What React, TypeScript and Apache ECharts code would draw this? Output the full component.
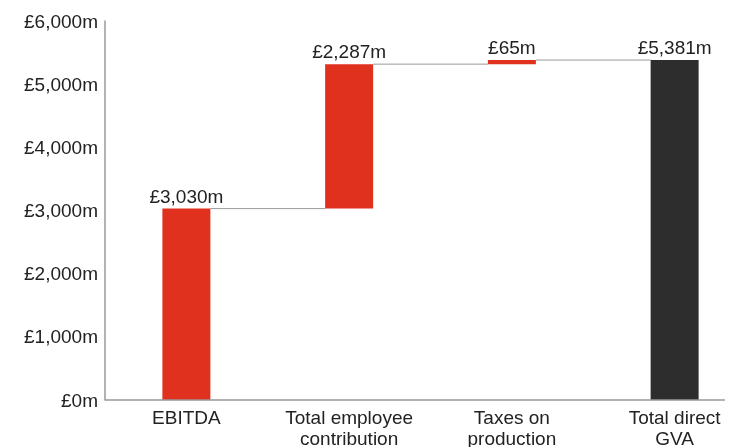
import React, { useEffect, useRef } from "react";
import * as echarts from "echarts";

const categories = ["EBITDA", "Total employee\ncontribution", "Taxes on\nproduction", "Total direct\nGVA"];
const baseValues = [0, 3030, 5317, 0];
const stepValues = [3030, 2287, 65, 5381];
const barColors = ["#E0301E", "#E0301E", "#E0301E", "#2D2D2D"];
const yTicks = { min: 0, max: 6000, interval: 1000 };

const fmt = (v: number) => "£" + v.toLocaleString("en-GB") + "m";

export default function App() {
  const ref = useRef<HTMLDivElement>(null);
  useEffect(() => {
    if (!ref.current) return;
    const chart = echarts.init(ref.current, undefined, { renderer: "svg" });
    const tops = baseValues.map((b, i) => b + stepValues[i]);
    const font = "'Liberation Sans', Arial, Helvetica, sans-serif";
    chart.setOption({
      animation: false,
      textStyle: { fontFamily: font },
      grid: { left: 105, top: 21, height: 379, width: 651, outerBoundsMode: "none", containLabel: false },
      xAxis: {
        type: "category",
        data: categories,
        axisLine: { show: false },
        axisTick: { show: false },
        axisLabel: { color: "#222", fontSize: 19, lineHeight: 21, margin: 7, fontFamily: font, interval: 0 },
      },
      yAxis: {
        type: "value",
        min: yTicks.min,
        max: yTicks.max,
        interval: yTicks.interval,
        axisLine: { show: true, lineStyle: { color: "#999", width: 1.5 } },
        axisTick: { show: false },
        splitLine: { show: false },
        axisLabel: { color: "#222", fontSize: 19, margin: 7, fontFamily: font, formatter: (v: number) => fmt(v) },
      },
      graphic: [
        {
          type: "line",
          shape: { x1: 105, y1: 400, x2: 725, y2: 400 },
          style: { stroke: "#999", lineWidth: 1.5 },
          z: 10,
        },
      ],
      series: [
        {
          type: "bar",
          stack: "w",
          data: baseValues,
          itemStyle: { color: "transparent" },
          barWidth: 48,
          silent: true,
        },
        {
          type: "bar",
          stack: "w",
          barWidth: 48,
          data: stepValues.map((v, i) => ({ value: v, itemStyle: { color: barColors[i] } })),
          label: {
            show: true,
            position: "top",
            distance: 3,
            color: "#222",
            fontSize: 19,
            fontFamily: font,
            formatter: (p: any) => fmt(p.value),
          },
        },
        {
          type: "custom",
          data: tops.slice(0, -1).map((t, i) => [i, t]),
          renderItem: (params: any, api: any) => {
            const i = api.value(0);
            const t = api.value(1);
            const p1 = api.coord([i, t]);
            const p2 = api.coord([i + 1, t]);
            const half = 24;
            return {
              type: "line",
              shape: { x1: p1[0] + half, y1: p1[1], x2: p2[0] - half, y2: p2[1] },
              style: { stroke: "#999", lineWidth: 1 },
            };
          },
          z: 1,
        },
      ],
    });
    return () => chart.dispose();
  }, []);
  return <div ref={ref} style={{ position: "fixed", left: 0, top: 0, width: 738, height: 447 }} />;
}
